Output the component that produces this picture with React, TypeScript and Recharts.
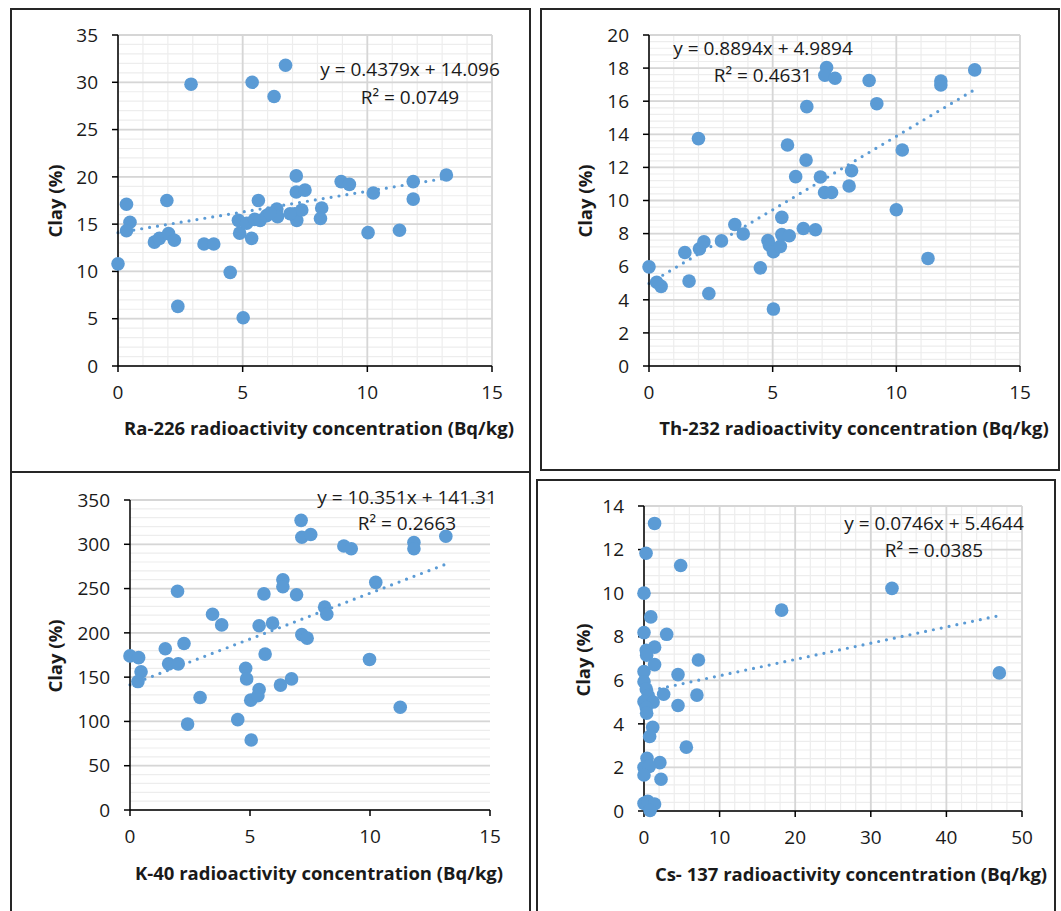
import React from 'react';
import { ScatterChart, Scatter, XAxis, YAxis, CartesianGrid, ReferenceLine } from 'recharts';

const MARKER = '#5B9BD5';
const FONT = '"Open Sans", "Noto Sans", sans-serif';
const TEXT = '#1a1a1a';

// ---------- Data ----------
// Panel 1: Ra-226 vs Clay
const raX = [0, 0.34, 0.48, 0.34, 2.93, 1.96, 1.46, 1.66, 2.03, 2.26, 2.4, 3.45, 3.84, 4.5, 5.02, 5.38, 6.72, 6.26, 4.83, 4.88, 5.16, 5.36, 5.63, 5.48, 5.7, 5.96, 6.37, 6.4, 7.15, 7.15, 7.5, 7.09, 7.17, 7.37, 8.17, 8.12, 8.95, 9.28, 10.24, 10.03, 11.29, 11.84, 11.84, 13.17, 6.1, 6.9];
const raClay = [10.8, 17.1, 15.2, 14.3, 29.8, 17.5, 13.1, 13.5, 14.0, 13.3, 6.3, 12.9, 12.9, 9.9, 5.1, 30.0, 31.8, 28.5, 15.4, 14.05, 15.1, 13.5, 17.5, 15.5, 15.4, 15.9, 16.6, 15.8, 20.1, 18.4, 18.6, 16.1, 15.4, 16.5, 16.7, 15.6, 19.5, 19.2, 18.3, 14.1, 14.35, 19.5, 17.65, 20.2, 16.15, 16.1];

// Panel 2: Th-232 vs Clay
const thX = [0, 0.31, 0.49, 1.45, 1.62, 2.0, 2.04, 2.22, 2.42, 2.93, 3.47, 3.81, 4.5, 4.81, 4.87, 5.03, 5.03, 5.37, 5.37, 5.31, 5.67, 5.6, 5.93, 6.24, 6.35, 6.38, 6.73, 6.93, 7.1, 7.38, 7.18, 7.11, 7.52, 8.09, 8.19, 8.9, 9.21, 10.0, 10.24, 11.28, 11.8, 11.8, 13.17];
const thClay = [5.99, 5.06, 4.81, 6.86, 5.13, 13.74, 7.08, 7.5, 4.38, 7.56, 8.55, 7.98, 5.93, 7.58, 7.3, 6.9, 3.44, 8.98, 7.94, 7.23, 7.87, 13.35, 11.44, 8.31, 12.44, 15.67, 8.23, 11.42, 10.48, 10.48, 18.04, 17.57, 17.39, 10.88, 11.8, 17.25, 15.85, 9.44, 13.05, 6.5, 17.22, 16.98, 17.89];

// Panel 3: K-40 vs Clay
const kX = [0, 0.36, 0.46, 0.33, 1.47, 1.61, 2.01, 1.98, 2.25, 2.4, 2.92, 3.44, 3.82, 4.49, 4.82, 4.86, 5.05, 5.03, 5.38, 5.38, 5.33, 5.58, 5.63, 5.94, 6.27, 6.37, 6.37, 6.73, 6.94, 7.13, 7.16, 7.53, 7.16, 7.38, 8.11, 8.2, 8.91, 9.22, 9.98, 10.24, 11.26, 11.83, 11.83, 13.16];
const kClay = [174, 172, 156, 145, 182, 165, 165, 247, 188, 97, 127, 221, 209, 102, 160, 148, 79, 124, 208, 136, 129, 244, 176, 211, 141, 260, 252, 148, 243, 327, 308, 311, 198, 194, 229, 221, 298, 295, 170, 257, 116, 302, 295, 309];

// Panel 4: Cs-137 vs Clay
const csX = [1.4, 0.27, 4.85, 0, 32.8, 18.2, 0.9, 0, 3.0, 1.4, 0.3, 0.35, 7.2, 1.4, 0, 4.5, 47, 0, 0.3, 0.55, 2.6, 7.0, 0, 1.2, 0.3, 0.35, 4.5, 1.15, 0.75, 5.6, 0.4, 2.1, 0, 0.7, 0, 2.25, 0, 0.5, 1.4, 0.8];
const csClay = [13.2, 11.83, 11.27, 10.0, 10.22, 9.22, 8.91, 8.19, 8.11, 7.52, 7.38, 7.15, 6.93, 6.72, 6.4, 6.26, 6.34, 5.93, 5.6, 5.3, 5.36, 5.32, 5.02, 5.0, 4.75, 4.49, 4.84, 3.84, 3.42, 2.93, 2.42, 2.22, 2.0, 2.05, 1.65, 1.46, 0.35, 0.45, 0.32, 0.02];

// Trendline coefficients and labels
const slopes = [0.4379, 0.8894, 10.351, 0.0746];
const intercepts = [14.096, 4.9894, 141.31, 5.4644];
const eqLabels = ['y = 0.4379x + 14.096', 'y = 0.8894x + 4.9894', 'y = 10.351x + 141.31', 'y = 0.0746x + 5.4644'];
const r2Labels = ['R\u00B2 = 0.0749', 'R\u00B2 = 0.4631', 'R\u00B2 = 0.2663', 'R\u00B2 = 0.0385'];
const xTitles = [
  'Ra-226 radioactivity concentration (Bq/kg)',
  'Th-232 radioactivity concentration (Bq/kg)',
  'K-40 radioactivity concentration (Bq/kg)',
  'Cs- 137 radioactivity concentration (Bq/kg)',
];
const yTitle = 'Clay (%)';

// Tick labels
const xTicks1 = [0, 5, 10, 15];
const xTicks4 = [0, 10, 20, 30, 40, 50];
const yTicks1 = [0, 5, 10, 15, 20, 25, 30, 35];
const yTicks2 = [0, 2, 4, 6, 8, 10, 12, 14, 16, 18, 20];
const yTicks3 = [0, 50, 100, 150, 200, 250, 300, 350];
const yTicks4 = [0, 2, 4, 6, 8, 10, 12, 14];

// minor gridline helper
const steps = (max: number, step: number) => {
  const out: number[] = [];
  const n = Math.round(max / step);
  for (let i = 0; i <= n; i++) out.push(+(i * step).toFixed(4));
  return out;
};

type Cfg = {
  xs: number[]; ys: number[]; idx: number;
  xDomain: [number, number]; yDomain: [number, number];
  xTicks: number[]; yTicks: number[];
  xMinor: number[]; yMinor: number[]; xMajorGrid: number[];
  plot: { l: number; t: number; r: number; b: number };
  box: { l: number; t: number; w: number; h: number };
  yTitlePos: [number, number]; xTitlePos: [number, number];
  eqPos: [number, number, number];
};

const panels: Cfg[] = [
  {
    xs: raX, ys: raClay, idx: 0, xDomain: [0, 15], yDomain: [0, 35],
    xTicks: xTicks1, yTicks: yTicks1, xMinor: steps(15, 1), yMinor: steps(35, 1), xMajorGrid: xTicks1,
    plot: { l: 118, t: 35, r: 492, b: 366 },
    box: { l: 10, t: 8, w: 521, h: 465 },
    yTitlePos: [55, 201], xTitlePos: [319, 428], eqPos: [410, 69, 97],
  },
  {
    xs: thX, ys: thClay, idx: 1, xDomain: [0, 15], yDomain: [0, 20],
    xTicks: xTicks1, yTicks: yTicks2, xMinor: steps(15, 1), yMinor: steps(20, 0.4), xMajorGrid: xTicks1,
    plot: { l: 649, t: 35, r: 1020, b: 366 },
    box: { l: 540, t: 8, w: 520, h: 463 },
    yTitlePos: [585, 201], xTitlePos: [854, 428], eqPos: [763, 48, 75],
  },
  {
    xs: kX, ys: kClay, idx: 2, xDomain: [0, 15], yDomain: [0, 350],
    xTicks: xTicks1, yTicks: yTicks3, xMinor: [], yMinor: steps(350, 10), xMajorGrid: [],
    plot: { l: 130, t: 500, r: 490, b: 810 },
    box: { l: 10, t: 471, w: 521, h: 460 },
    yTitlePos: [55, 656], xTitlePos: [319, 873], eqPos: [407, 497, 523],
  },
  {
    xs: csX, ys: csClay, idx: 3, xDomain: [0, 50], yDomain: [0, 14],
    xTicks: xTicks4, yTicks: yTicks4, xMinor: steps(50, 2), yMinor: steps(14, 0.4), xMajorGrid: xTicks4,
    plot: { l: 644, t: 506, r: 1022, b: 811 },
    box: { l: 536, t: 479, w: 520, h: 460 },
    yTitlePos: [583, 660], xTitlePos: [851, 874], eqPos: [934, 523, 550],
  },
];

const Dot = (p: any) => <circle cx={p.cx} cy={p.cy} r={6.8} fill={MARKER} />;

const tickStyle = { fill: TEXT, fontSize: 19, fontFamily: FONT };
const axisLineStyle = { stroke: '#000', strokeWidth: 1.5 };

function Panel({ cfg }: { cfg: Cfg }) {
  const { plot, box } = cfg;
  const YW = 70, XH = 40, MT = 22, MR = 14;
  const W = plot.r - plot.l + YW + MR;
  const H = plot.b - plot.t + MT + XH;
  const data = cfg.xs.map((x, i) => ({ x, y: cfg.ys[i] }));
  const xmin = Math.min(...cfg.xs);
  const xmax = Math.max(...cfg.xs);
  const m = slopes[cfg.idx], c = intercepts[cfg.idx];
  const seg = [{ x: xmin, y: m * xmin + c }, { x: xmax, y: m * xmax + c }];
  return (
    <>
      <div style={{ position: 'absolute', left: box.l, top: box.t, width: box.w, height: box.h, border: '2px solid #262626', boxSizing: 'border-box' }} />
      <div style={{ position: 'absolute', left: plot.l - YW, top: plot.t - MT }}>
        <ScatterChart width={W} height={H} margin={{ top: MT, right: MR, bottom: 0, left: 0 }}>
          <CartesianGrid
            horizontalValues={cfg.yMinor}
            verticalValues={cfg.xMinor.length ? cfg.xMinor : undefined}
            vertical={cfg.xMinor.length > 0}
            stroke="#EDEDED"
            strokeWidth={1.2}
          />
          <CartesianGrid
            horizontalValues={cfg.yTicks}
            verticalValues={cfg.xMajorGrid.length ? cfg.xMajorGrid : undefined}
            vertical={cfg.xMajorGrid.length > 0}
            stroke="#D6D6D6"
            strokeWidth={1.8}
          />
          <XAxis
            type="number" dataKey="x" domain={cfg.xDomain} ticks={cfg.xTicks} interval={0}
            height={XH} tickSize={6} tickMargin={14}
            axisLine={axisLineStyle} tickLine={axisLineStyle} tick={tickStyle}
          />
          <YAxis
            type="number" dataKey="y" domain={cfg.yDomain} ticks={cfg.yTicks} interval={0}
            width={YW} tickSize={6} tickMargin={14}
            axisLine={axisLineStyle} tickLine={axisLineStyle} tick={tickStyle}
          />
          <Scatter data={data} fill={MARKER} shape={Dot} isAnimationActive={false} />
          <ReferenceLine
            segment={seg} stroke={MARKER} strokeWidth={3.2}
            strokeDasharray="0 8" strokeLinecap="round"
          />
        </ScatterChart>
      </div>
      <div style={{
        position: 'absolute', left: cfg.yTitlePos[0], top: cfg.yTitlePos[1],
        transform: 'translate(-50%, -50%) rotate(-90deg)', whiteSpace: 'nowrap',
        fontFamily: FONT, fontWeight: 700, fontSize: 18.5, color: TEXT, lineHeight: 1,
      }}>{yTitle}</div>
      <div style={{
        position: 'absolute', left: cfg.xTitlePos[0], top: cfg.xTitlePos[1],
        transform: 'translate(-50%, -50%)', whiteSpace: 'nowrap',
        fontFamily: FONT, fontWeight: 700, fontSize: 18.5, color: TEXT, lineHeight: 1,
      }}>{xTitles[cfg.idx]}</div>
      <div style={{
        position: 'absolute', left: cfg.eqPos[0], top: cfg.eqPos[1],
        transform: 'translate(-50%, -50%)', whiteSpace: 'nowrap',
        fontFamily: FONT, fontSize: 19, color: TEXT, lineHeight: 1,
      }}>{eqLabels[cfg.idx]}</div>
      <div style={{
        position: 'absolute', left: cfg.eqPos[0], top: cfg.eqPos[2],
        transform: 'translate(-50%, -50%)', whiteSpace: 'nowrap',
        fontFamily: FONT, fontSize: 19, color: TEXT, lineHeight: 1,
      }}>{r2Labels[cfg.idx]}</div>
    </>
  );
}

export default function App() {
  return (
    <div style={{ position: 'absolute', left: 0, top: 0, width: 1061, height: 911, overflow: 'hidden', background: '#fff' }}>
      {panels.map((p) => <Panel key={p.idx} cfg={p} />)}
    </div>
  );
}
